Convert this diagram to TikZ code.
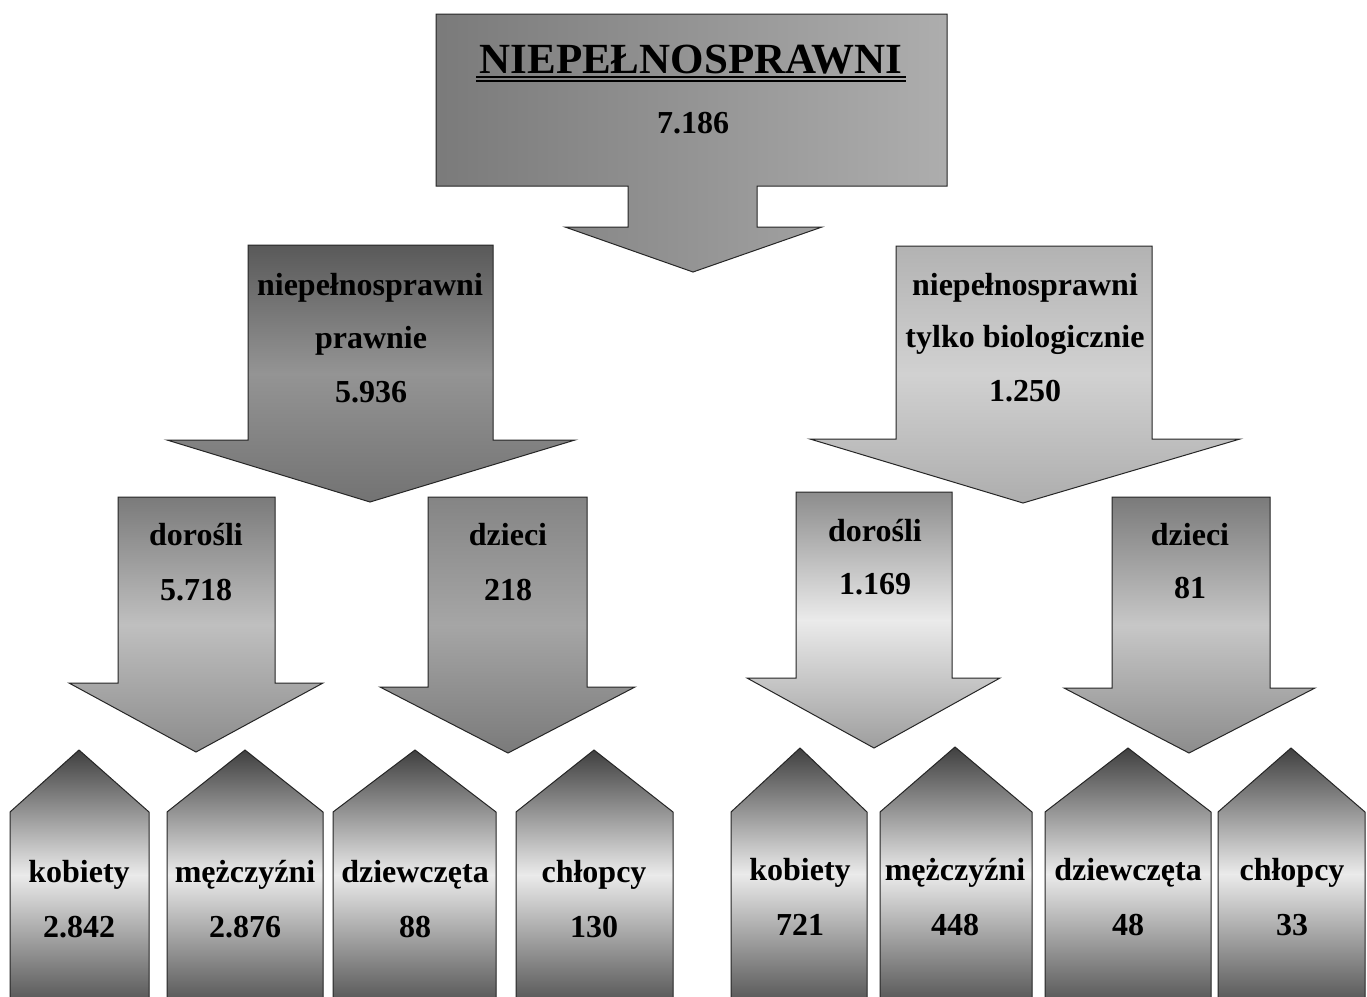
\documentclass[tikz,border=0pt]{standalone}
\usepackage{fontspec}
\setmainfont{Liberation Serif}
\begin{document}
\begin{tikzpicture}[x=1pt,y=-1pt,
  shp/.style={draw=black!85, line width=1pt},
  lbl/.style={font=\fontsize{32}{38}\selectfont\bfseries, text=black, inner sep=0pt, anchor=base},
  ttl/.style={font=\fontsize{43}{48}\selectfont\bfseries, text=black, inner sep=0pt, anchor=base},
  pent/.style={shp, top color=black!75, bottom color=black!65, middle color=black!8},
  uline/.style={line width=1.3pt, black}
]
\useasboundingbox (0,0) rectangle (1367,996);
\clip (0,0) rectangle (1367,996);
\fill[white] (0,0) rectangle (1367,996);

% top box with arrow
\path[shp, left color=black!52, right color=black!32]
  (436,14) -- (947,14) -- (947,186) -- (757,186) -- (757,227) -- (822,227)
  -- (693,272) -- (565,227) -- (628,227) -- (628,186) -- (436,186) -- cycle;

% second level
\path[shp, top color=black!65, bottom color=black!55, middle color=black!42]
  (248,245) -- (493,245) -- (493,440) -- (575,440) -- (370,502) -- (167,440) -- (248,440) -- cycle;
\path[shp, top color=black!30, bottom color=black!32, middle color=black!18]
  (896,246) -- (1152,246) -- (1152,439) -- (1240,439) -- (1023,503) -- (810,439) -- (896,439) -- cycle;

% third level
\path[shp, top color=black!52, bottom color=black!45, middle color=black!25]
  (118,497) -- (275,497) -- (275,683) -- (323,683) -- (196,752) -- (69,683) -- (118,683) -- cycle;
\path[shp, top color=black!48, bottom color=black!52, middle color=black!35]
  (428,497) -- (587,497) -- (587,687) -- (635,687) -- (508,753) -- (380,687) -- (428,687) -- cycle;
\path[shp, top color=black!45, bottom color=black!38, middle color=black!8]
  (796,492) -- (952,492) -- (952,678) -- (1000,678) -- (874,748) -- (747,678) -- (796,678) -- cycle;
\path[shp, top color=black!52, bottom color=black!45, middle color=black!22]
  (1112,497) -- (1270,497) -- (1270,688) -- (1315,688) -- (1189,753) -- (1064,688) -- (1112,688) -- cycle;

% bottom pentagons
\path[pent] (10,1000) -- (10,812) -- (79,750) -- (149,812) -- (149,1000) -- cycle;
\path[pent] (167,1000) -- (167,812) -- (245,750) -- (323,812) -- (323,1000) -- cycle;
\path[pent] (333,1000) -- (333,812) -- (415,750) -- (496,812) -- (496,1000) -- cycle;
\path[pent] (516,1000) -- (516,812) -- (594,750) -- (673,812) -- (673,1000) -- cycle;
\path[pent] (731,1000) -- (731,812) -- (800,748) -- (867,812) -- (867,1000) -- cycle;
\path[pent] (880,1000) -- (880,812) -- (955,747) -- (1032,812) -- (1032,1000) -- cycle;
\path[pent] (1045,1000) -- (1045,812) -- (1128,748) -- (1211,812) -- (1211,1000) -- cycle;
\path[pent] (1218,1000) -- (1218,812) -- (1291,748) -- (1365,812) -- (1365,1000) -- cycle;

% texts
\node[ttl] (title) at (691,73) {NIEPEŁNOSPRAWNI};
\draw[uline] ([xshift=-3pt,yshift=-4pt]title.base west) -- ([xshift=3pt,yshift=-4pt]title.base east);
\draw[uline] ([xshift=-3pt,yshift=-8pt]title.base west) -- ([xshift=3pt,yshift=-8pt]title.base east);
\node[lbl] (tnum) at (693,133) {7.186};

\node[lbl] (lp1) at (370,295) {niepełnosprawni};
\node[lbl] (lp2) at (371,348) {prawnie};
\node[lbl] (lp3) at (371,402) {5.936};

\node[lbl] (rb1) at (1025,295) {niepełnosprawni};
\node[lbl] (rb2) at (1025,347) {tylko biologicznie};
\node[lbl] (rb3) at (1025,401) {1.250};

\node[lbl] (ld1) at (196,545) {dorośli};
\node[lbl] (ld2) at (196,600) {5.718};
\node[lbl] (lc1) at (508,545) {dzieci};
\node[lbl] (lc2) at (508,600) {218};
\node[lbl] (rd1) at (875,541) {dorośli};
\node[lbl] (rd2) at (875,594) {1.169};
\node[lbl] (rc1) at (1190,545) {dzieci};
\node[lbl] (rc2) at (1190,598) {81};

\node[lbl] (b1a) at (79,882) {kobiety};
\node[lbl] (b1b) at (79,937) {2.842};
\node[lbl] (b2a) at (245,882) {mężczyźni};
\node[lbl] (b2b) at (245,937) {2.876};
\node[lbl] (b3a) at (415,882) {dziewczęta};
\node[lbl] (b3b) at (415,937) {88};
\node[lbl] (b4a) at (594,882) {chłopcy};
\node[lbl] (b4b) at (594,937) {130};
\node[lbl] (b5a) at (800,880) {kobiety};
\node[lbl] (b5b) at (800,935) {721};
\node[lbl] (b6a) at (955,880) {mężczyźni};
\node[lbl] (b6b) at (955,935) {448};
\node[lbl] (b7a) at (1128,880) {dziewczęta};
\node[lbl] (b7b) at (1128,935) {48};
\node[lbl] (b8a) at (1292,880) {chłopcy};
\node[lbl] (b8b) at (1292,935) {33};
\end{tikzpicture}
\end{document}
